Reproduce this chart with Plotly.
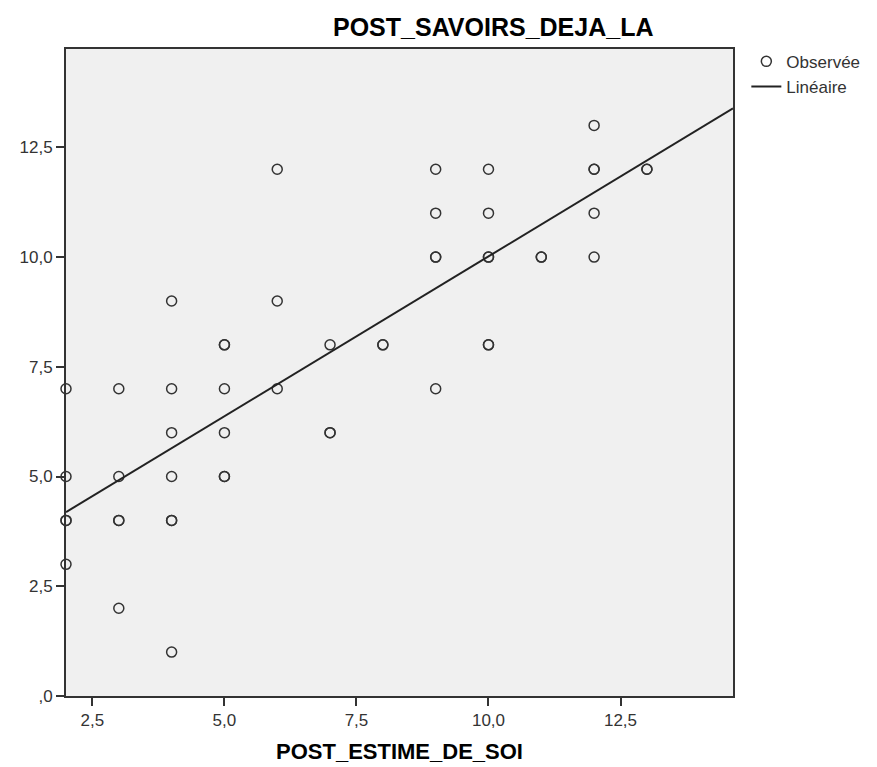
import numpy as np
import plotly.graph_objects as go

# Observed data (duplicates = overlapping observations)
x_obs = [2, 2, 2, 2, 2,
         3, 3, 3, 3, 3,
         4, 4, 4, 4, 4, 4, 4,
         5, 5, 5, 5, 5, 5,
         6, 6, 6,
         7, 7, 7,
         8, 8,
         9, 9, 9, 9, 9,
         10, 10, 10, 10, 10, 10,
         11, 11,
         12, 12, 12, 12, 12,
         13, 13]
y_obs = [7, 5, 4, 4, 3,
         7, 5, 4, 4, 2,
         9, 7, 6, 5, 4, 4, 1,
         8, 8, 7, 6, 5, 5,
         12, 9, 7,
         8, 6, 6,
         8, 8,
         12, 11, 10, 10, 7,
         12, 11, 10, 10, 8, 8,
         10, 10,
         13, 12, 12, 11, 10,
         12, 12]

x_tickvals = [2.5, 5.0, 7.5, 10.0, 12.5]
x_ticktext = ["2,5", "5,0", "7,5", "10,0", "12,5"]
y_tickvals = [0, 2.5, 5.0, 7.5, 10.0, 12.5]
y_ticktext = [",0", "2,5", "5,0", "7,5", "10,0", "12,5"]

x_range = [2.0, 14.63]
y_range = [0.0, 14.74]

slope, intercept = np.polyfit(x_obs, y_obs, 1)
x_fit = np.array(x_range)
y_fit = intercept + slope * x_fit

FONT = "Liberation Sans, Arial, sans-serif"

fig = go.Figure()
fig.add_trace(go.Scatter(
    x=x_obs, y=y_obs, mode="markers", name="Observée",
    marker=dict(symbol="circle-open", size=10, color="#333333", line=dict(width=1.5, color="#333333")),
    cliponaxis=False,
))
fig.add_trace(go.Scatter(
    x=x_fit, y=y_fit, mode="lines", name="Linéaire",
    line=dict(color="#222222", width=2),
))

axis_font = dict(family=FONT, size=17, color="#333333")
fig.update_layout(
    width=869, height=759,
    margin=dict(l=47, r=131, t=41, b=71),
    paper_bgcolor="white",
    plot_bgcolor="#f0f0f0",
    font=dict(family=FONT, size=17, color="#333333"),
    showlegend=True,
    legend=dict(x=1.020, y=1.008, xanchor="left", yanchor="top",
                font=dict(family=FONT, size=17, color="#333333"), bgcolor="rgba(0,0,0,0)",
                itemwidth=30, tracegroupgap=0),
    xaxis=dict(range=x_range, tickvals=x_tickvals, ticktext=x_ticktext,
               showgrid=False, zeroline=False, showline=True, linecolor="#333333", linewidth=2,
               mirror=True, ticks="outside", ticklen=8, tickcolor="#333333", tickwidth=2,
               tickfont=axis_font),
    yaxis=dict(range=y_range, tickvals=y_tickvals, ticktext=y_ticktext,
               showgrid=False, zeroline=False, showline=True, linecolor="#333333", linewidth=2,
               mirror=True, ticks="outside", ticklen=8, tickcolor="#333333", tickwidth=2,
               tickfont=axis_font),
    annotations=[
        dict(text="<b>POST_SAVOIRS_DEJA_LA</b>", xref="paper", yref="paper",
             x=0.640, y=1.0, yshift=22, xanchor="center", yanchor="middle",
             showarrow=False, font=dict(family=FONT, size=25, color="black")),
        dict(text="<b>POST_ESTIME_DE_SOI</b>", xref="paper", yref="paper",
             x=0.5, y=0, yshift=-55, xanchor="center", yanchor="middle",
             showarrow=False, font=dict(family=FONT, size=22, color="black")),
    ],
)

fig.write_html("out.html")
